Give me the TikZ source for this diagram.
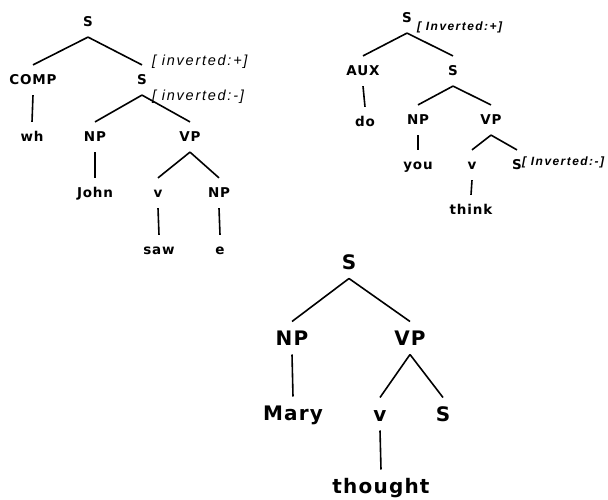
\documentclass[tikz,border=0pt]{standalone}
\usepackage{fontspec}
\newfontfamily\treefont[LetterSpace=6]{DejaVu Sans}
\newfontfamily\featfont[LetterSpace=12]{Liberation Sans}
\begin{document}
\begin{tikzpicture}[x=1pt,y=-1pt,
    cat/.style={font=\treefont\bfseries\fontsize{13.5}{16}\selectfont,
      inner xsep=0pt, inner ysep=10pt, text height=9.8pt, text depth=0pt},
    bigcat/.style={font=\treefont\bfseries\fontsize{20}{22}\selectfont,
      inner xsep=0pt, inner ysep=9pt, text height=14.6pt, text depth=0pt},
    feat/.style={font=\featfont\itshape\fontsize{14.5}{16}\selectfont,
      anchor=west, inner sep=0pt},
    smallfeat/.style={font=\featfont\bfseries\itshape\fontsize{12}{14}\selectfont,
      anchor=west, inner sep=0pt},
    branch/.style={line width=1.6pt}]
  \useasboundingbox (0,0) rectangle (608,500);
  % wh question
  \draw
    (88,22) node[cat] (as){S}
    (33,80) node[cat] (acomp){COMP}
    (142,80) node[cat] (as2){S}
    (32,137) node[cat] (awh){wh}
    (95,137) node[cat] (anp){NP}
    (190,137) node[cat] (avp){VP}
    (95,193) node[cat] (ajohn){John}
    (158,193) node[cat] (av){v}
    (219,193) node[cat] (anp2){NP}
    (159,250) node[cat] (asaw){saw}
    (220,250) node[cat] (ae){e}
    (152,62) node[feat] (af1){[ inverted:+]}
    (152,97) node[feat] (af2){[ inverted:-]};
  \begin{scope}[branch]
    \draw (as.south) to (acomp.north);
    \draw (as.south) to (as2.north);
    \draw (acomp.south) to (awh.north);
    \draw (as2.south) to (anp.north);
    \draw (as2.south) to (avp.north);
    \draw (anp.south) to (ajohn.north);
    \draw (avp.south) to (av.north);
    \draw (avp.south) to (anp2.north);
    \draw (av.south) to (asaw.north);
    \draw (anp2.south) to (ae.north);
  \end{scope}
  % yes-no question
  \draw
    (407,18) node[cat] (bs){S}
    (363,71) node[cat] (baux){AUX}
    (453,71) node[cat] (bs2){S}
    (365,122) node[cat] (bdo){do}
    (418,120) node[cat] (bnp){NP}
    (491,120) node[cat] (bvp){VP}
    (418,165) node[cat] (byou){you}
    (472,165) node[cat] (bv){v}
    (517,165) node[cat] (bs3){S}
    (471,210) node[cat] (bthink){think}
    (417,27) node[smallfeat] (bf1){[ Inverted:+]}
    (522,162) node[smallfeat] (bf2){[ Inverted:-]};
  \begin{scope}[branch]
    \draw (bs.south) to (baux.north);
    \draw (bs.south) to (bs2.north);
    \draw (baux.south) to (bdo.north);
    \draw (bs2.south) to (bnp.north);
    \draw (bs2.south) to (bvp.north);
    \draw (bnp.south) to (byou.north);
    \draw (bvp.south) to (bv.north);
    \draw (bvp.south) to (bs3.north);
    \draw (bv.south) to (bthink.north);
  \end{scope}
  % embedded clause
  \draw
    (349,262) node[bigcat] (cs){S}
    (292,338) node[bigcat] (cnp){NP}
    (410,338) node[bigcat] (cvp){VP}
    (293,413) node[bigcat] (cmary){Mary}
    (380,414) node[bigcat] (cv){v}
    (443,414) node[bigcat] (cs2){S}
    (381,486) node[bigcat] (cthought){thought};
  \begin{scope}[branch]
    \draw (cs.south) to (cnp.north);
    \draw (cs.south) to (cvp.north);
    \draw (cnp.south) to (cmary.north);
    \draw (cvp.south) to (cv.north);
    \draw (cvp.south) to (cs2.north);
    \draw (cv.south) to (cthought.north);
  \end{scope}
\end{tikzpicture}
\end{document}
